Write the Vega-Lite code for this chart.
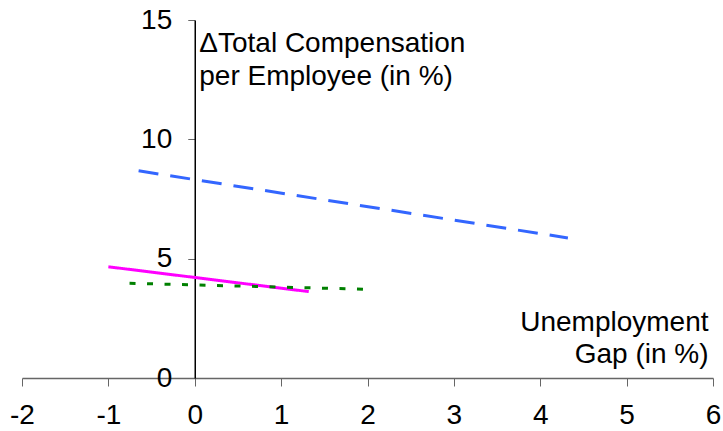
{
  "$schema": "https://vega.github.io/schema/vega-lite/v6.json",
  "width": 691,
  "height": 358,
  "autosize": {"type": "none"},
  "padding": {"left": 22, "top": 20, "right": 10, "bottom": 53},
  "background": "white",
  "config": {
    "view": {"stroke": null},
    "font": "Liberation Sans",
    "axis": {"grid": false, "labelFont": "Liberation Sans", "titleFont": "Liberation Sans", "labelColor": "black", "titleColor": "black", "titleFontWeight": "normal"}
  },
  "data": {
    "values": [
      {"series": "A", "x": -0.65, "y": 8.68},
      {"series": "A", "x": 4.32, "y": 5.87},
      {"series": "B", "x": -1.0, "y": 4.66},
      {"series": "B", "x": 1.32, "y": 3.62},
      {"series": "C", "x": -0.755, "y": 3.97},
      {"series": "C", "x": 1.96, "y": 3.72}
    ]
  },
  "mark": {"type": "line", "strokeWidth": 3, "strokeCap": "butt"},
  "encoding": {
    "x": {
      "field": "x", "type": "quantitative",
      "scale": {"domain": [-2, 6], "nice": false, "zero": false},
      "axis": {
        "values": [-2, -1, 0, 1, 2, 3, 4, 5, 6],
        "labelExpr": "'' + datum.value",
        "labelFontSize": 28, "tickSize": 8, "tickColor": "#666", "domainColor": "#666", "domainWidth": 1.5,
        "labelPadding": 15, "labelFlush": false,
        "title": ["Unemployment", "Gap (in %)"],
        "titleFontSize": 28, "titleAlign": "right", "titleBaseline": "top", "titleAnchor": null,
        "titleX": 686, "titleY": -70, "titleLineHeight": 32
      }
    },
    "y": {
      "field": "y", "type": "quantitative",
      "scale": {"domain": [0, 15], "nice": false},
      "axis": {
        "values": [0, 5, 10, 15],
        "offset": -172.75,
        "labelFontSize": 28, "tickSize": 7, "tickColor": "#666", "domainColor": "black", "domainWidth": 1.5,
        "labelPadding": 16,
        "title": ["ΔTotal Compensation", "per Employee (in %)"],
        "titleFontSize": 28, "titleAngle": 0, "titleAlign": "left", "titleBaseline": "top",
        "titleX": 4, "titleY": 9, "titleLineHeight": 33
      }
    },
    "color": {
      "field": "series", "type": "nominal",
      "scale": {"domain": ["A", "B", "C"], "range": ["#3366FF", "#FF00FF", "#008000"]},
      "legend": null
    },
    "strokeDash": {
      "field": "series", "type": "nominal",
      "scale": {"domain": ["A", "B", "C"], "range": [[20, 12], [1, 0], [6, 11.5]]},
      "legend": null
    }
  }
}
